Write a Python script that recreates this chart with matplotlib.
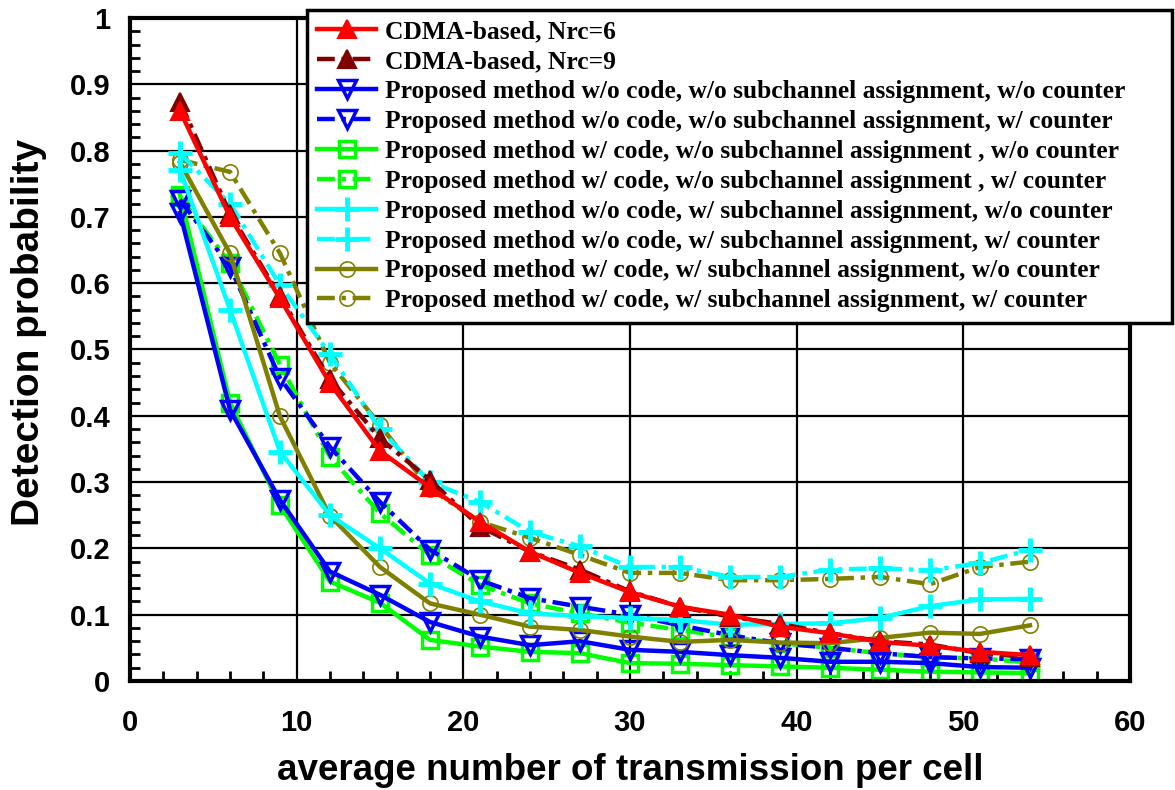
import numpy as np
import matplotlib
matplotlib.use("Agg")
import matplotlib.pyplot as plt
from matplotlib.ticker import MultipleLocator

x = [3, 6, 9, 12, 15, 18, 21, 24, 27, 30, 33, 36, 39, 42, 45, 48, 51, 54]

cdma6 = [0.86, 0.70, 0.577, 0.449, 0.347, 0.292, 0.24, 0.195, 0.163, 0.134, 0.112, 0.10, 0.082, 0.072, 0.059, 0.053, 0.044, 0.039]
cdma9 = [0.874, 0.705, 0.58, 0.455, 0.366, 0.303, 0.233, 0.195, 0.168, 0.135, 0.112, 0.097, 0.086, 0.072, 0.06, 0.055, 0.042, 0.036]
p_nc_ns_nc = [0.706, 0.409, 0.273, 0.165, 0.13, 0.089, 0.067, 0.054, 0.06, 0.047, 0.044, 0.039, 0.035, 0.029, 0.029, 0.027, 0.021, 0.02]
p_nc_ns_c = [0.726, 0.625, 0.457, 0.353, 0.27, 0.198, 0.152, 0.125, 0.112, 0.10, 0.084, 0.069, 0.057, 0.05, 0.042, 0.036, 0.034, 0.033]
p_c_ns_nc = [0.733, 0.42, 0.265, 0.15, 0.118, 0.062, 0.052, 0.044, 0.042, 0.027, 0.026, 0.024, 0.022, 0.02, 0.017, 0.014, 0.013, 0.012]
p_c_ns_c = [0.73, 0.63, 0.477, 0.338, 0.253, 0.19, 0.145, 0.117, 0.102, 0.088, 0.077, 0.066, 0.057, 0.05, 0.042, 0.036, 0.034, 0.028]
p_nc_s_nc = [0.771, 0.56, 0.346, 0.25, 0.20, 0.147, 0.12, 0.102, 0.098, 0.095, 0.092, 0.085, 0.086, 0.087, 0.095, 0.113, 0.123, 0.124]
p_nc_s_c = [0.796, 0.72, 0.597, 0.493, 0.38, 0.30, 0.27, 0.225, 0.203, 0.172, 0.172, 0.157, 0.157, 0.168, 0.17, 0.167, 0.178, 0.198]
p_c_s_nc = [0.782, 0.645, 0.399, 0.249, 0.172, 0.117, 0.10, 0.082, 0.077, 0.067, 0.059, 0.062, 0.058, 0.057, 0.065, 0.073, 0.071, 0.084]
p_c_s_c = [0.786, 0.768, 0.645, 0.48, 0.386, 0.29, 0.24, 0.216, 0.19, 0.163, 0.163, 0.152, 0.152, 0.154, 0.157, 0.146, 0.172, 0.18]

labels = [
    "CDMA-based, Nrc=6",
    "CDMA-based, Nrc=9",
    "Proposed method w/o code, w/o subchannel assignment, w/o counter",
    "Proposed method w/o code, w/o subchannel assignment, w/ counter",
    "Proposed method w/ code, w/o subchannel assignment , w/o counter",
    "Proposed method w/ code, w/o subchannel assignment , w/ counter",
    "Proposed method w/o code, w/ subchannel assignment, w/o counter",
    "Proposed method w/o code, w/ subchannel assignment, w/ counter",
    "Proposed method w/ code, w/ subchannel assignment, w/o counter",
    "Proposed method w/ code, w/ subchannel assignment, w/ counter",
]

dashdot = (0, (4, 1.5, 1, 1.5))

styles = [
    dict(color="#ff0000", ls="-", marker="^", ms=13, mfc="#ff0000", mew=1.5),
    dict(color="#800000", ls=dashdot, marker="^", ms=13, mfc="#800000", mew=1.5),
    dict(color="#0000ff", ls="-", marker="v", ms=13, mfc="none", mew=2.5),
    dict(color="#0000ff", ls=dashdot, marker="v", ms=13, mfc="none", mew=2.5),
    dict(color="#00ff00", ls="-", marker="s", ms=11, mfc="none", mew=2.5),
    dict(color="#00ff00", ls=dashdot, marker="s", ms=11, mfc="none", mew=2.5),
    dict(color="#00ffff", ls="-", marker="+", ms=17, mew=3.5),
    dict(color="#00ffff", ls=dashdot, marker="+", ms=17, mew=3.5),
    dict(color="#808000", ls="-", marker="o", ms=11, mfc="none", mew=1.2),
    dict(color="#808000", ls=dashdot, marker="o", ms=11, mfc="none", mew=1.2),
]

series = [cdma6, cdma9, p_nc_ns_nc, p_nc_ns_c, p_c_ns_nc, p_c_ns_c,
          p_nc_s_nc, p_nc_s_c, p_c_s_nc, p_c_s_c]

fig = plt.figure(figsize=(11.75, 7.9), dpi=100)
ax = fig.add_axes([130 / 1175, 109 / 790, 1000 / 1175, 663 / 790])

# draw order so the red CDMA curves end up on top
order = [4, 5, 2, 3, 8, 9, 6, 7, 1, 0]
handles = [None] * len(series)
for i in order:
    s = styles[i]
    h, = ax.plot(x, series[i], lw=3.2, color=s["color"], linestyle=s["ls"],
                 marker=s["marker"], markersize=s["ms"],
                 markerfacecolor=s.get("mfc", s["color"]),
                 markeredgecolor=s["color"], markeredgewidth=s["mew"],
                 label=labels[i])
    handles[i] = h

ax.set_xlim(0, 60)
ax.set_ylim(0, 1)
ax.xaxis.set_major_locator(MultipleLocator(10))
ax.xaxis.set_minor_locator(MultipleLocator(2))
ax.yaxis.set_minor_locator(MultipleLocator(0.02))
ax.set_yticks(np.arange(0, 1.01, 0.1))
ax.set_yticklabels(["0", "0.1", "0.2", "0.3", "0.4", "0.5", "0.6", "0.7", "0.8", "0.9", "1"])
ax.grid(True, which="major", color="black", lw=1.6)
ax.set_axisbelow(True)

ax.tick_params(which="both", direction="in", width=2)
ax.tick_params(axis="x", which="major", length=0, pad=20)
ax.tick_params(axis="y", which="major", length=0, pad=14)
ax.tick_params(which="minor", length=7)
for sp in ax.spines.values():
    sp.set_linewidth(3)

for lab in ax.get_xticklabels() + ax.get_yticklabels():
    lab.set_fontfamily("Liberation Sans")
    lab.set_fontweight("bold")
    lab.set_fontsize(21)

ax.set_xlabel("average number of transmission per cell", fontsize=26.5,
              fontweight="bold", family="Liberation Sans", labelpad=12)
ax.set_ylabel("Detection probability", fontsize=28, fontweight="bold",
              family=["Liberation Sans Narrow", "Liberation Sans"])
ax.yaxis.set_label_coords(-0.083, 0.525)

leg = ax.legend(handles=handles, loc="upper left",
                bbox_to_anchor=(0.177, 0.54, 0.865, 0.472), mode="expand",
                prop=dict(family="Liberation Serif", weight="bold", size=18.4),
                frameon=True, fancybox=False, framealpha=1, edgecolor="black",
                handlelength=2.3, handletextpad=0.35, labelspacing=0.27,
                borderpad=0.4, borderaxespad=0)
leg.get_frame().set_linewidth(2.5)

fig.savefig("out.png", dpi=100)
